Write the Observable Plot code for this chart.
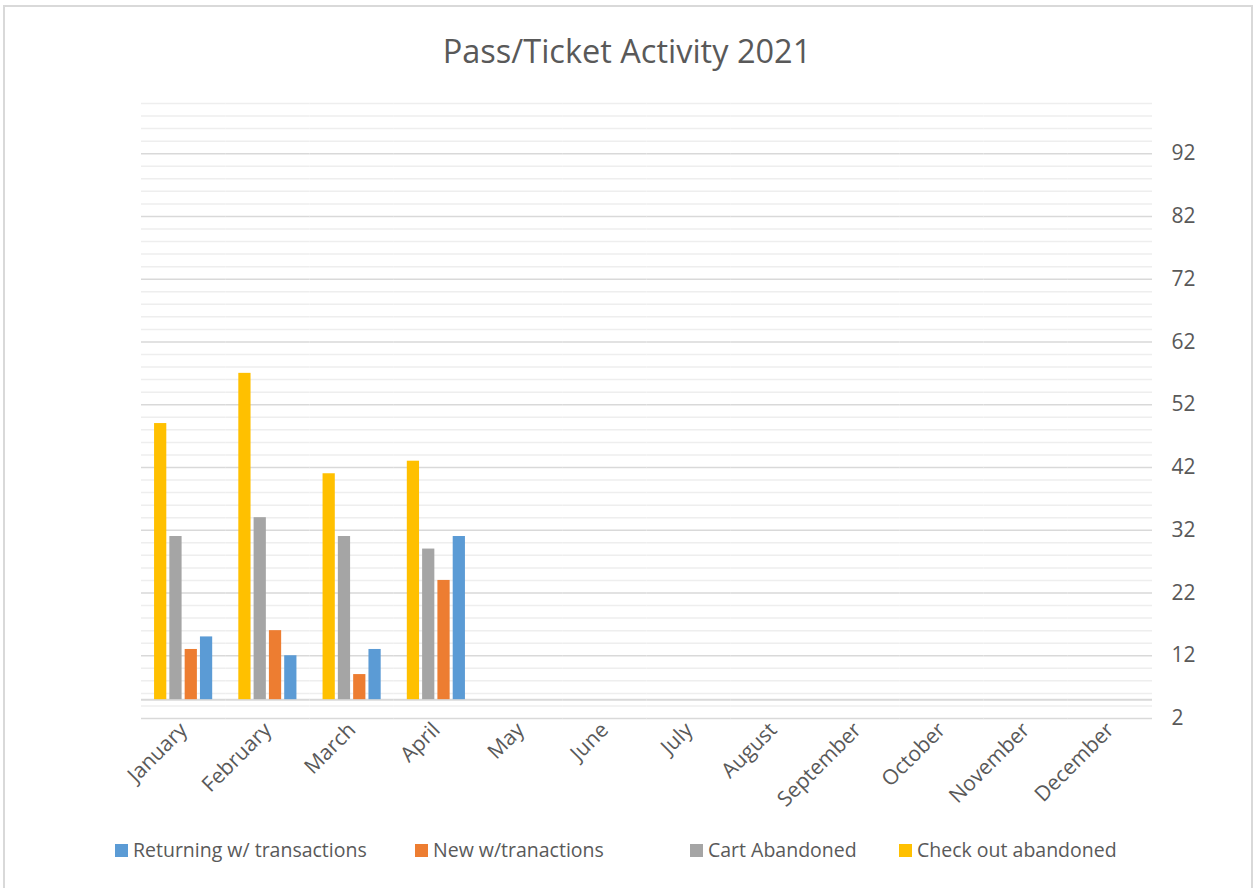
<!DOCTYPE html>
<html>
<head>
<meta charset="utf-8">
<script src="https://cdn.jsdelivr.net/npm/d3@7"></script>
<script src="https://cdn.jsdelivr.net/npm/@observablehq/plot@0.6"></script>
<style>
  html, body { margin: 0; padding: 0; background: #fff; }
  body { width: 1254px; height: 888px; position: relative; overflow: hidden; font-family: "Open Sans", sans-serif; color: #595959; }
  #frame { position: absolute; left: 3px; top: 5px; width: 1246px; height: 900px; border: 2px solid #d9d9d9; }
  #title { position: absolute; left: 0; top: 31px; width: 1254px; text-align: center; font-size: 32.5px; line-height: 40px; color: #595959; }
  #chart { position: absolute; left: 0; top: 80px; }
  .leg { position: absolute; top: 837px; font-size: 19.5px; line-height: 26px; color: #595959; white-space: nowrap; }
  .sw { position: absolute; top: 844px; width: 13px; height: 13px; }
</style>
</head>
<body>
<div id="frame"></div>
<div id="title">Pass/Ticket Activity 2021</div>
<div id="chart"></div>
<div id="legend"></div>
<script>
// ---- data ----
const months = ["January","February","March","April","May","June","July","August","September","October","November","December"];
const seriesNames = ["Returning w/ transactions","New w/tranactions","Cart Abandoned","Check out abandoned"];
const seriesColors = ["#5B9BD5","#ED7D31","#A5A5A5","#FFC000"];
const returning = [15, 12, 13, 31];
const newTransactions = [13, 16, 9, 24];
const cartAbandoned = [31, 34, 31, 29];
const checkoutAbandoned = [49, 57, 41, 43];
const yTicks = [2, 12, 22, 32, 42, 52, 62, 72, 82, 92];
const axisCross = 5;

// ---- build tables ----
const seriesValues = [returning, newTransactions, cartAbandoned, checkoutAbandoned];
const data = [];
seriesNames.forEach((s, si) => {
  seriesValues[si].forEach((v, mi) => data.push({month: months[mi], series: s, value: v}));
});
const barOrder = [...seriesNames].reverse();
const minorValues = d3.range(4, 101, 2).filter(v => !yTicks.includes(v));
const gridFor = vals => months.flatMap(m => vals.map(v => ({month: m, v})));
const minorGrid = gridFor(minorValues);
const majorGrid = gridFor(yTicks);
const crossGrid = gridFor([axisCross]);

// ---- layout ----
const W = 1254, H = 740, mL = 141, mR = 102;
const padInner = 0.31, padOuter = 0.155;
const step = (W - mL - mR) / (months.length - padInner + 2 * padOuter);
const ext = -padOuter * step; // extend grid rules across facet gaps

const chart = Plot.plot({
  width: W, height: H,
  marginTop: 23, marginBottom: 102, marginLeft: mL, marginRight: mR,
  fx: {domain: months, paddingInner: padInner, paddingOuter: padOuter, round: false, label: null},
  x: {domain: barOrder, paddingInner: 0.2, paddingOuter: 0, round: false, axis: null},
  y: {domain: [2, 100], axis: null},
  color: {domain: seriesNames, range: seriesColors},
  style: {fontFamily: "'Open Sans', sans-serif", fontSize: "21px", color: "#595959", background: "transparent"},
  marks: [
    Plot.ruleY(minorGrid, {fx: "month", y: "v", stroke: "#eeeeee", strokeWidth: 1.5, insetLeft: ext, insetRight: ext}),
    Plot.ruleY(majorGrid, {fx: "month", y: "v", stroke: "#d9d9d9", strokeWidth: 1.5, insetLeft: ext, insetRight: ext}),
    Plot.ruleY(crossGrid, {fx: "month", y: "v", stroke: "#d9d9d9", strokeWidth: 2, insetLeft: ext, insetRight: ext}),
    Plot.barY(data, {fx: "month", x: "series", y1: axisCross, y2: "value", fill: "series"}),
    Plot.axisY(yTicks, {anchor: "right", tickSize: 0, tickPadding: 32, fontSize: 21, color: "#595959", label: null}),
    Plot.axisFx({anchor: "bottom", tickRotate: -45, tickSize: 0, tickPadding: 8, fontSize: 21, color: "#595959", label: null})
  ]
});
document.getElementById("chart").appendChild(chart);

// ---- legend ----
const legendX = [115, 415, 690, 899];
const legend = document.getElementById("legend");
seriesNames.forEach((s, i) => {
  const sw = document.createElement("div");
  sw.className = "sw";
  sw.style.left = legendX[i] + "px";
  sw.style.background = seriesColors[i];
  legend.appendChild(sw);
  const t = document.createElement("div");
  t.className = "leg";
  t.style.left = (legendX[i] + 18) + "px";
  t.textContent = s;
  legend.appendChild(t);
});
</script>
</body>
</html>
